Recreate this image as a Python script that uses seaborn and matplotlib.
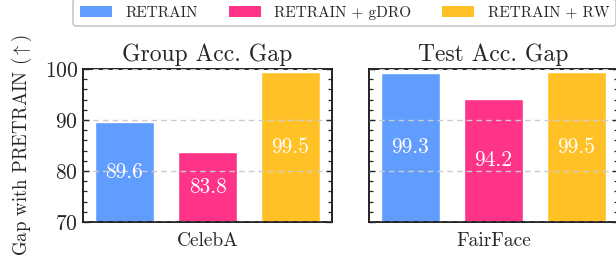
import matplotlib

matplotlib.use("Agg")
import matplotlib.pyplot as plt  # noqa: E402
from matplotlib.patches import Patch  # noqa: E402
from matplotlib.ticker import MultipleLocator  # noqa: E402
import pandas as pd  # noqa: E402
import seaborn as sns  # noqa: E402

# dados
datasets = ["CelebA", "FairFace"]
titulos = ["Group Acc. Gap", "Test Acc. Gap"]
metodos = ["RETRAIN", "RETRAIN + gDRO", "RETRAIN + RW"]
celeba_vals = [89.6, 83.8, 99.5]
fairface_vals = [99.3, 94.2, 99.5]
cores = ["#619cff", "#ff3388", "#ffc125"]

sns.set_theme(style="ticks")
plt.rcParams["font.family"] = ["cmr10", "DejaVu Serif"]
plt.rcParams["mathtext.fontset"] = "cm"
plt.rcParams["axes.formatter.use_mathtext"] = True

df = pd.DataFrame(
    {
        "dataset": [datasets[0]] * 3 + [datasets[1]] * 3,
        "metodo": metodos * 2,
        "valor": celeba_vals + fairface_vals,
    }
)
paleta = dict(zip(metodos, cores))

fig = plt.figure(figsize=(6.16, 2.63), dpi=100)
ax1 = fig.add_axes([83 / 616, 41 / 263, 249 / 616, 153 / 263])
ax2 = fig.add_axes([369 / 616, 41 / 263, 249 / 616, 153 / 263])

for ax, nome, titulo in zip([ax1, ax2], datasets, titulos):
    sub = df[df["dataset"] == nome]
    sns.barplot(
        data=sub, x="dataset", y="valor", hue="metodo", hue_order=metodos,
        palette=paleta, gap=0.29, saturation=1, legend=False, ax=ax,
    )
    ax.set_ylim(70, 100)
    ax.set_xlim(-0.4, 0.4)
    ax.set_title(titulo, fontsize=17, pad=6)
    ax.set_xlabel("")
    ax.set_ylabel("")
    ax.yaxis.set_major_locator(MultipleLocator(10))
    ax.yaxis.set_minor_locator(MultipleLocator(2))
    ax.tick_params(axis="y", which="both", direction="in", left=True, right=True)
    ax.tick_params(axis="y", which="major", length=4.5, width=1, labelsize=15.5)
    ax.tick_params(axis="y", which="minor", length=3, width=0.9)
    ax.tick_params(axis="x", length=0, pad=7, labelsize=14)
    for s in ax.spines.values():
        s.set_visible(True)
        s.set_linewidth(1.3)
        s.set_color("#111111")
    ax.set_axisbelow(False)
    ax.grid(axis="y", which="major", color="#cccccc", linestyle=(0, (4, 3)), linewidth=1)
    for p in ax.patches:
        h = p.get_height()
        if h <= 0:
            continue
        ax.text(p.get_x() + p.get_width() / 2, (70 + h) / 2, f"{h:.1f}",
                ha="center", va="center", color="white", fontsize=15.5)

ax2.tick_params(axis="y", which="both", labelleft=False)
ax1.set_ylabel(r"Gap with PRETRAIN ($\uparrow$)", fontsize=13.5, labelpad=8)

handles = [Patch(facecolor=c, edgecolor="none") for c in cores]
leg = fig.legend(
    handles, metodos, loc="upper left", bbox_to_anchor=(73 / 616, 1.005),
    ncol=3, fontsize=11, frameon=True, fancybox=True, edgecolor="#bbbbbb",
    handlelength=2.1, handleheight=0.7, handletextpad=0.9, columnspacing=2.0,
    borderaxespad=0, borderpad=0.45,
)
leg.get_frame().set_linewidth(1.2)

fig.savefig("out.png", dpi=100)
